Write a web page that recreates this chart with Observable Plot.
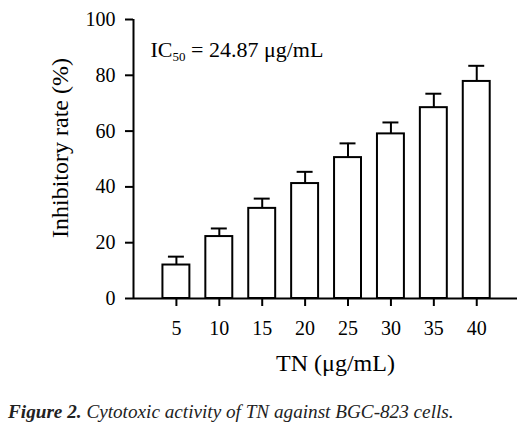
<!DOCTYPE html>
<html>
<head>
<meta charset="utf-8">
<script src="https://cdn.jsdelivr.net/npm/d3@7"></script>
<script src="https://cdn.jsdelivr.net/npm/@observablehq/plot@0.6"></script>
<style>
  body { margin: 0; background: #fff; }
  #chart svg { display: block; }
  #caption { font-family: "Liberation Serif", serif; font-style: italic; font-size: 19.2px; color: #222; margin: 16px 0 0 8px; white-space: nowrap; }
</style>
</head>
<body>
<div id="chart"></div>
<div id="caption"><b>Figure 2.</b> Cytotoxic activity of TN against BGC-823 cells.</div>
<script>
const concentrations = [5, 10, 15, 20, 25, 30, 35, 40];
const inhibitoryRate = [12.0, 22.2, 32.3, 41.2, 50.5, 59.0, 68.4, 77.8];
const errorSD = [3.0, 2.9, 3.5, 4.2, 5.1, 4.1, 5.0, 5.6];
const yTicks = [0, 20, 40, 60, 80, 100];
const xLabel = "TN (μg/mL)";
const yLabel = "Inhibitory rate (%)";
const icParts = ["IC", "50", " = 24.87 μg/mL"];

const data = concentrations.map((c, i) => ({c, v: inhibitoryRate[i], e: errorSD[i]}));
const halfBar = 1.57, halfCap = 0.93;

const plot = Plot.plot({
  width: 528,
  height: 385,
  marginLeft: 133,
  marginRight: 11,
  marginTop: 19,
  marginBottom: 87,
  style: {fontFamily: "Liberation Serif, serif", color: "#000", background: "#fff"},
  x: {domain: [0, 44.75], ticks: concentrations},
  y: {domain: [0, 100], ticks: yTicks},
  marks: [
    Plot.ruleX(data, {x: "c", y1: "v", y2: d => d.v + d.e, stroke: "#000", strokeWidth: 2}),
    Plot.ruleY(data, {y: d => d.v + d.e, x1: d => d.c - halfCap, x2: d => d.c + halfCap, stroke: "#000", strokeWidth: 2}),
    Plot.rect(data, {x1: d => d.c - halfBar, x2: d => d.c + halfBar, y1: 0, y2: "v", fill: "#fff", stroke: "#000", strokeWidth: 2}),
    Plot.ruleX([0], {stroke: "#000", strokeWidth: 2}),
    Plot.ruleY([0], {stroke: "#000", strokeWidth: 2}),
    Plot.axisY({ticks: yTicks, tickSize: 8, tickPadding: 10, fontSize: 20, strokeWidth: 2, label: null}),
    Plot.axisX({ticks: concentrations, tickSize: 8, tickPadding: 14, fontSize: 20, strokeWidth: 2, label: null}),
    Plot.text([xLabel], {frameAnchor: "bottom", dx: 10, dy: 72, fontSize: 24}),
    Plot.text([yLabel], {frameAnchor: "left", textAnchor: "middle", rotate: -90, dx: -73, dy: -11, fontSize: 24}),
    Plot.text([icParts.join("")], {frameAnchor: "top-left", dx: 17, dy: 37, textAnchor: "start", lineAnchor: "bottom", fontSize: 22})
  ]
});

document.getElementById("chart").appendChild(plot);

// Turn the IC50 annotation into text with a subscript
d3.select(plot).selectAll("text").filter(function() { return this.textContent === icParts.join(""); })
  .each(function() {
    const t = d3.select(this);
    t.text(null);
    t.append("tspan").text(icParts[0]);
    t.append("tspan").attr("font-size", 13).attr("dy", 4).text(icParts[1]);
    t.append("tspan").attr("dy", -4).text(icParts[2]);
  });
</script>
</body>
</html>
